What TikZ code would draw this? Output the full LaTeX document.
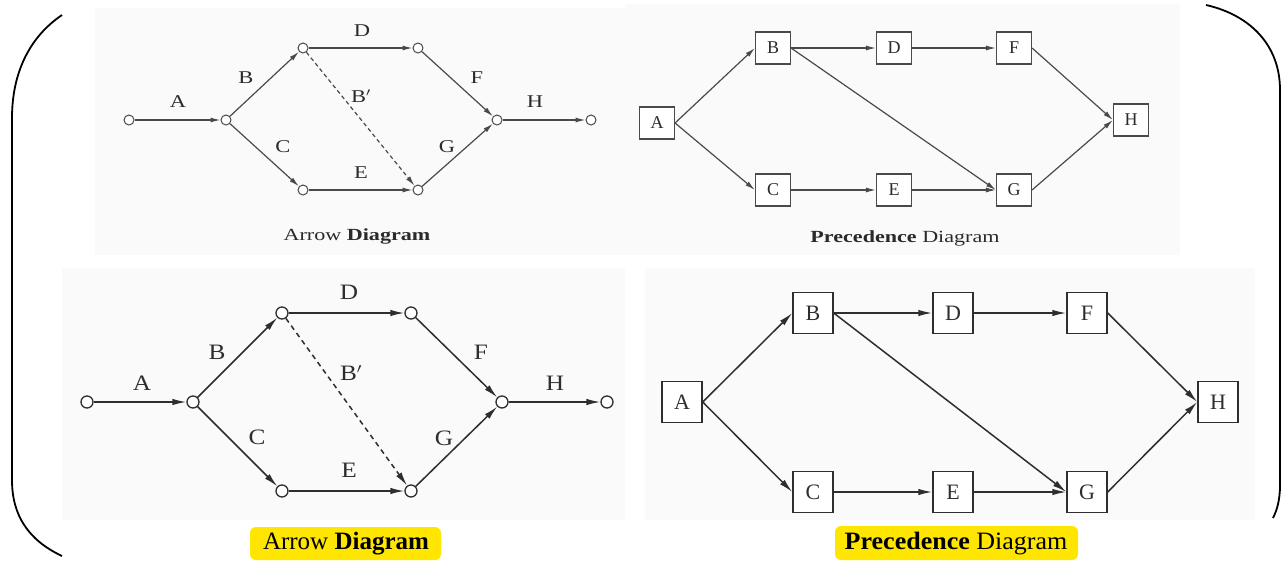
\documentclass[tikz,border=0pt]{standalone}
\usepackage{fontspec}
\setmainfont{Liberation Serif}
\usetikzlibrary{arrows.meta}
\definecolor{inkTop}{HTML}{4A4A4A}
\definecolor{txtTop}{HTML}{2A2A2A}
\definecolor{inkBot}{HTML}{2E2E2E}
\definecolor{panel}{HTML}{FAFAFA}
\definecolor{marker}{HTML}{FFE600}
\newcommand\wideText[2]{\scalebox{#1}[1]{#2}}
\tikzset{
  bracket/.style={draw=black, line width=1.8pt},
  evsmall/.style={circle, draw=inkTop, fill=white, line width=1pt, inner sep=0pt, minimum size=10pt},
  evbig/.style={circle, draw=inkBot, fill=white, line width=1.3pt, inner sep=0pt, minimum size=12pt},
  acttop/.style={draw=inkTop, line width=1.2pt, -{Latex[length=10pt,width=5pt]}},
  actbot/.style={draw=inkBot, line width=1.5pt, -{Latex[length=14pt,width=6.5pt]}},
  boxsmall/.style={draw=inkTop, fill=white, line width=1.1pt, minimum width=35pt, minimum height=32pt, inner sep=0pt, text=txtTop, font=\fontsize{18}{18}\selectfont},
  boxbig/.style={draw=inkBot, fill=white, line width=1.4pt, minimum width=40pt, minimum height=41pt, inner sep=0pt, text=inkBot, font=\fontsize{22}{22}\selectfont},
  lbltop/.style={inner sep=0pt, text=txtTop, font=\fontsize{18}{18}\selectfont},
  lblbot/.style={inner sep=0pt, text=inkBot, font=\fontsize{22}{22}\selectfont},
  captop/.style={inner sep=0pt, text=txtTop, font=\fontsize{17}{17}\selectfont},
  capbot/.style={inner sep=0pt, text=black, font=\fontsize{25}{25}\selectfont},
  hilite/.style={fill=marker, rounded corners=6pt}
}
\begin{document}
\begin{tikzpicture}[x=1pt, y=-1pt]
\useasboundingbox (0,0) rectangle (1288,563);

% faint scanned panels
\fill[panel] (95,8) rectangle (640,255);
\fill[panel] (625,4) rectangle (1180,255);
\fill[panel] (62,268) rectangle (625,520);
\fill[panel] (645,268) rectangle (1255,520);

% enclosing brackets
\draw[bracket] (62,15) .. controls (28,38) and (12,75) .. (12,118) -- (12,480) .. controls (12,515) and (28,540) .. (62,556);
\draw[bracket] (1206,5) .. controls (1250,15) and (1280,45) .. (1280,90) -- (1280,485) .. controls (1280,500) and (1277,510) .. (1273,518);

% ---------- small arrow diagram ----------
\node[evsmall] (s1) at (129,120) {};
\node[evsmall] (a1) at (226,120) {};
\node[evsmall] (b1) at (303,48) {};
\node[evsmall] (d1) at (418,48) {};
\node[evsmall] (c1) at (303,190) {};
\node[evsmall] (e1) at (418,190) {};
\node[evsmall] (g1) at (497,120) {};
\node[evsmall] (h1) at (591,120) {};
\draw[acttop] (s1) -- (a1);
\draw[acttop] (a1) -- (b1);
\draw[acttop] (b1) -- (d1);
\draw[acttop] (d1) -- (g1);
\draw[acttop] (a1) -- (c1);
\draw[acttop] (c1) -- (e1);
\draw[acttop] (e1) -- (g1);
\draw[acttop] (g1) -- (h1);
\draw[acttop, dashed, dash pattern=on 4pt off 3pt] (b1) -- (e1);
\node[lbltop] (la1) at (178,102) {\wideText{1.25}{A}};
\node[lbltop] (lb1) at (246,78) {\wideText{1.25}{B}};
\node[lbltop] (ld1) at (362,31) {\wideText{1.25}{D}};
\node[lbltop] (lbp1) at (361,96) {\wideText{1.25}{B$'$}};
\node[lbltop] (lc1) at (283,147) {\wideText{1.25}{C}};
\node[lbltop] (le1) at (361,173) {\wideText{1.25}{E}};
\node[lbltop] (lf1) at (477,78) {\wideText{1.25}{F}};
\node[lbltop] (lg1) at (447,147) {\wideText{1.25}{G}};
\node[lbltop] (lh1) at (535,102) {\wideText{1.25}{H}};
\node[captop] (cap1) at (357,236) {\wideText{1.3}{Arrow \textbf{Diagram}}};

% ---------- small precedence diagram ----------
\node[boxsmall] (pA1) at (657,123) {A};
\node[boxsmall] (pB1) at (773,48) {B};
\node[boxsmall] (pD1) at (894,48) {D};
\node[boxsmall] (pF1) at (1014,48) {F};
\node[boxsmall] (pH1) at (1131,120) {H};
\node[boxsmall] (pC1) at (773,190) {C};
\node[boxsmall] (pE1) at (894,190) {E};
\node[boxsmall] (pG1) at (1014,190) {G};
\draw[acttop] (pA1.east) -- (pB1.west);
\draw[acttop] (pA1.east) -- (pC1.west);
\draw[acttop] (pB1.east) -- (pD1.west);
\draw[acttop] (pD1.east) -- (pF1.west);
\draw[acttop] (pB1.east) -- (pG1.west);
\draw[acttop] (pC1.east) -- (pE1.west);
\draw[acttop] (pE1.east) -- (pG1.west);
\draw[acttop] (pF1.east) -- (pH1.west);
\draw[acttop] (pG1.east) -- (pH1.west);
\node[captop] (cap2) at (905,238) {\wideText{1.3}{\textbf{Precedence} Diagram}};

% ---------- large arrow diagram ----------
\node[evbig] (s2) at (87,402) {};
\node[evbig] (a2) at (193,402) {};
\node[evbig] (b2) at (282,313) {};
\node[evbig] (d2) at (411,313) {};
\node[evbig] (c2) at (282,491) {};
\node[evbig] (e2) at (411,491) {};
\node[evbig] (g2) at (502,402) {};
\node[evbig] (h2) at (607,402) {};
\draw[actbot] (s2) -- (a2);
\draw[actbot] (a2) -- (b2);
\draw[actbot] (b2) -- (d2);
\draw[actbot] (d2) -- (g2);
\draw[actbot] (a2) -- (c2);
\draw[actbot] (c2) -- (e2);
\draw[actbot] (e2) -- (g2);
\draw[actbot] (g2) -- (h2);
\draw[actbot, dashed, dash pattern=on 5pt off 4pt] (b2) -- (e2);
\node[lblbot] (la2) at (142,383) {\wideText{1.15}{A}};
\node[lblbot] (lb2) at (217,352) {\wideText{1.15}{B}};
\node[lblbot] (ld2) at (349,292) {\wideText{1.15}{D}};
\node[lblbot] (lbp2) at (351,373) {\wideText{1.15}{B$'$}};
\node[lblbot] (lc2) at (257,437) {\wideText{1.15}{C}};
\node[lblbot] (le2) at (349,470) {\wideText{1.15}{E}};
\node[lblbot] (lf2) at (481,352) {\wideText{1.15}{F}};
\node[lblbot] (lg2) at (444,438) {\wideText{1.15}{G}};
\node[lblbot] (lh2) at (555,383) {\wideText{1.15}{H}};
\fill[hilite] (250,527) rectangle (441,560);
\node[capbot] (cap3) at (346,544) {Arrow \textbf{Diagram}};

% ---------- large precedence diagram ----------
\node[boxbig] (pA2) at (682,402) {A};
\node[boxbig] (pB2) at (813,313) {B};
\node[boxbig] (pD2) at (953,313) {D};
\node[boxbig] (pF2) at (1087,313) {F};
\node[boxbig] (pH2) at (1218,402) {H};
\node[boxbig] (pC2) at (813,492) {C};
\node[boxbig] (pE2) at (953,492) {E};
\node[boxbig] (pG2) at (1087,492) {G};
\draw[actbot] (pA2.east) -- (pB2.west);
\draw[actbot] (pA2.east) -- (pC2.west);
\draw[actbot] (pB2.east) -- (pD2.west);
\draw[actbot] (pD2.east) -- (pF2.west);
\draw[actbot] (pB2.east) -- (pG2.west);
\draw[actbot] (pC2.east) -- (pE2.west);
\draw[actbot] (pE2.east) -- (pG2.west);
\draw[actbot] (pF2.east) -- (pH2.west);
\draw[actbot] (pG2.east) -- (pH2.west);
\fill[hilite] (835,526) rectangle (1078,560);
\node[capbot] (cap4) at (956,544) {\wideText{1.04}{\textbf{Precedence} Diagram}};
\end{tikzpicture}
\end{document}
